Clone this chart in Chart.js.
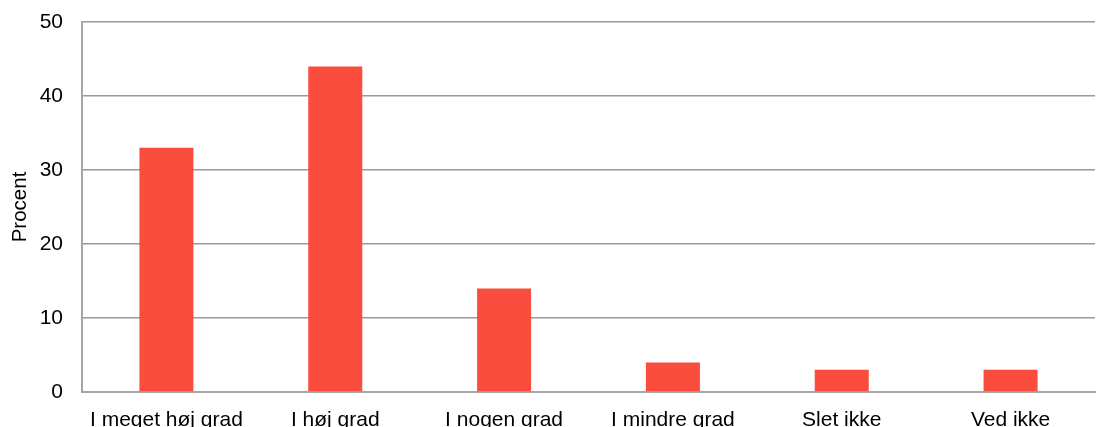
<!DOCTYPE html>
<html>
<head>
<meta charset="utf-8">
<script src="https://cdn.jsdelivr.net/npm/chart.js@4.4.0/dist/chart.umd.min.js"></script>
<style>
  html, body { margin: 0; padding: 0; background: #fff; overflow: hidden; }
  #wrap { position: relative; width: 1098px; height: 445px; }
</style>
</head>
<body>
<div id="wrap"><canvas id="barChart"></canvas></div>
<script>
const categories = ['I meget høj grad', 'I høj grad', 'I nogen grad', 'I mindre grad', 'Slet ikke', 'Ved ikke'];
const percentValues = [33, 44, 14, 4, 3, 3];
const yTicks = [0, 10, 20, 30, 40, 50];

const FONT = 'Liberation Sans, Arial, Helvetica, sans-serif';

new Chart(document.getElementById('barChart'), {
    type: 'bar',
    data: {
        labels: categories,
        datasets: [{
            data: percentValues,
            backgroundColor: '#fa4d3d',
            borderWidth: 0,
            barPercentage: 0.32,
            categoryPercentage: 1
        }]
    },
    options: {
        responsive: true,
        maintainAspectRatio: false,
        animation: false,
        layout: { padding: { top: 22, right: 3, left: 0, bottom: 0 } },
        plugins: {
            legend: { display: false },
            tooltip: { enabled: false }
        },
        scales: {
            x: {
                grid: { display: false, drawTicks: false },
                border: { color: '#a6a6a6', width: 2 },
                ticks: {
                    color: '#000',
                    font: { family: FONT, size: 21 },
                    padding: 16,
                    maxRotation: 0,
                    autoSkip: false
                },
                afterFit(scale) {
                    scale.height = 445 - 392;
                    scale.paddingLeft = 0;
                    scale.paddingRight = 0;
                }
            },
            y: {
                min: 0,
                max: 50,
                afterBuildTicks(scale) { scale.ticks = yTicks.map(v => ({ value: v })); },
                grid: { color: '#999999', lineWidth: 1.5, drawTicks: false },
                border: { color: '#a6a6a6', width: 2 },
                ticks: {
                    color: '#000',
                    font: { family: FONT, size: 21 },
                    padding: 19
                },
                title: {
                    display: true,
                    text: 'Procent',
                    color: '#000',
                    font: { family: FONT, size: 20.5 },
                    padding: { top: 8, bottom: 0 }
                },
                afterFit(scale) {
                    scale.width = 82;
                    scale.paddingTop = 0;
                    scale.paddingBottom = 0;
                }
            }
        }
    }
});
</script>
</body>
</html>
